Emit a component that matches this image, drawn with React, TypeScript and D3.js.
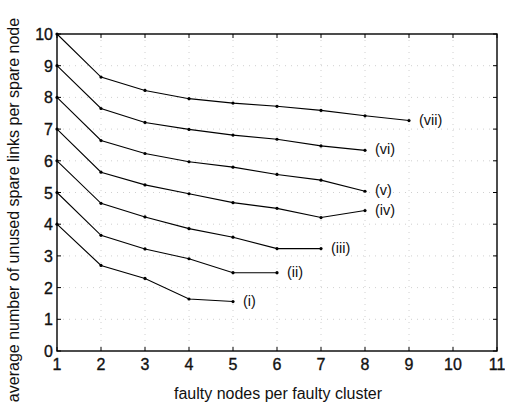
import React from "react";
import * as d3 from "d3";

const xs = [1, 2, 3, 4, 5, 6, 7, 8, 9];
const seriesNames = ["(i)", "(ii)", "(iii)", "(iv)", "(v)", "(vi)", "(vii)"];
const s1 = [4, 2.7, 2.29, 1.64, 1.56];
const s2 = [5, 3.65, 3.22, 2.91, 2.47, 2.47];
const s3 = [6, 4.66, 4.23, 3.86, 3.59, 3.23, 3.23];
const s4 = [7, 5.64, 5.24, 4.96, 4.68, 4.5, 4.21, 4.43];
const s5 = [8, 6.64, 6.23, 5.97, 5.8, 5.57, 5.39, 5.04];
const s6 = [9, 7.65, 7.21, 6.99, 6.81, 6.68, 6.47, 6.33];
const s7 = [10, 8.64, 8.22, 7.96, 7.82, 7.72, 7.59, 7.42, 7.27];
const allSeries = [s1, s2, s3, s4, s5, s6, s7];
const xTicks = [1, 2, 3, 4, 5, 6, 7, 8, 9, 10, 11];
const yTicks = [0, 1, 2, 3, 4, 5, 6, 7, 8, 9, 10];

const L = 57, R = 497, T = 34, B = 351;

export default function App() {
  const x = d3.scaleLinear().domain([1, 11]).range([L, R]);
  const y = d3.scaleLinear().domain([0, 10]).range([B, T]);
  const line = d3.line<number>().x((_, i) => x(xs[i])).y((d) => y(d));
  const font = "'Liberation Sans', Arial, sans-serif";
  return (
    <svg width={505} height={409} style={{ position: "absolute", left: 0, top: 0, background: "#fff" }}>
      <rect width={505} height={409} fill="#fff" />
      {xTicks.slice(1, -1).map((t) => (
        <line key={"gx" + t} x1={x(t)} x2={x(t)} y1={T} y2={B} stroke="#c4c4c4" strokeWidth={0.8} strokeDasharray="1,5" />
      ))}
      {yTicks.slice(1, -1).map((t) => (
        <line key={"gy" + t} x1={L} x2={R} y1={y(t)} y2={y(t)} stroke="#c4c4c4" strokeWidth={0.8} strokeDasharray="1,5" />
      ))}
      {xTicks.map((t) => (
        <g key={"tx" + t}>
          <line x1={x(t)} x2={x(t)} y1={B} y2={B - 4} stroke="#000" />
          <line x1={x(t)} x2={x(t)} y1={T} y2={T + 4} stroke="#000" />
          <text x={x(t)} y={B + 19} textAnchor="middle" fontFamily={font} fontSize={16} fill="#111" stroke="#111" strokeWidth={0.35}>{t}</text>
        </g>
      ))}
      {yTicks.map((t) => (
        <g key={"ty" + t}>
          <line x1={L} x2={L + 4} y1={y(t)} y2={y(t)} stroke="#000" />
          <line x1={R} x2={R - 4} y1={y(t)} y2={y(t)} stroke="#000" />
          <text x={L - 4} y={y(t) + 6} textAnchor="end" fontFamily={font} fontSize={16} fill="#111" stroke="#111" strokeWidth={0.35}>{t}</text>
        </g>
      ))}
      <rect x={L} y={T} width={R - L} height={B - T} fill="none" stroke="#000" strokeWidth={1.4} />
      {allSeries.map((s, k) => (
        <g key={"s" + k}>
          <path d={line(s) || ""} fill="none" stroke="#000" strokeWidth={1.1} />
          {s.map((v, i) => (
            <circle key={i} cx={x(xs[i])} cy={y(v)} r={1.6} fill="#000" />
          ))}
          <text x={x(xs[s.length - 1]) + 10} y={y(s[s.length - 1]) + 4} fontFamily={font} fontSize={14.5} fill="#111">
            {seriesNames[k]}
          </text>
        </g>
      ))}
      <text x={278} y={399} textAnchor="middle" fontFamily={font} fontSize={16} fill="#111">
        faulty nodes per faulty cluster
      </text>
      <text transform={`translate(19,210) rotate(-90)`} textAnchor="middle" fontFamily={font} fontSize={16} fill="#111">
        average number of unused spare links per spare node
      </text>
    </svg>
  );
}
